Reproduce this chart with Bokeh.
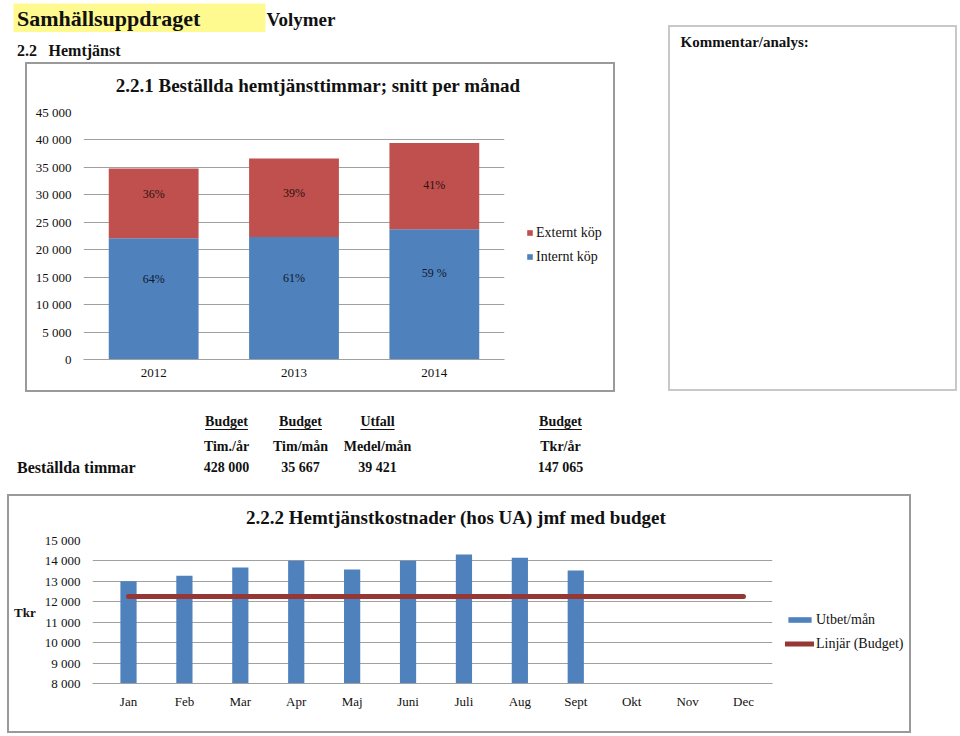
from bokeh.plotting import figure
from bokeh.models import (ColumnDataSource, FactorRange, Range1d, FixedTicker, Legend,
                          LegendItem, Spacer)
from bokeh.layouts import column, row
from bokeh.embed import file_html
from bokeh.resources import INLINE
from bokeh.core.properties import value

FONT = "Liberation Serif"
TXT = "#111111"
BLUE = "#4F81BD"
RED = "#C0504D"
DARKRED = "#953735"
GRID = "#A0A0A0"
BOX = "#9A9A9A"
BOX2 = "#C8C8C8"

# ---------------- data ----------------
years = ["2012", "2013", "2014"]
internt = [22070, 22310, 23710]
externt = [12715, 14300, 15711]
pct_internt = ["64%", "61%", "59 %"]
pct_externt = ["36%", "39%", "41%"]
y1_ticks = list(range(0, 45001, 5000))
series1 = ["Externt köp", "Internt köp"]

months = ["Jan", "Feb", "Mar", "Apr", "Maj", "Juni", "Juli", "Aug", "Sept", "Okt", "Nov", "Dec"]
utbet = [13000, 13280, 13680, 14010, 13580, 14010, 14320, 14155, 13530]
budget_tkr_ar = 147065
y2_ticks = list(range(8000, 15001, 1000))
series2 = ["Utbet/mån", "Linjär (Budget)"]

table_headers = ["Budget", "Budget", "Utfall", "Budget"]
table_units = ["Tim./år", "Tim/mån", "Medel/mån", "Tkr/år"]
table_values = ["428 000", "35 667", "39 421", "147 065"]
table_row_label = "Beställda timmar"

# Times/Liberation Serif Bold advance widths (per 1000 em) for underline lengths
TB = {"B": 667, "u": 556, "d": 556, "g": 500, "e": 444, "t": 333, "U": 722, "f": 333,
      "a": 500, "l": 278}


def fmt(v):
    return f"{v:,}".replace(",", " ")


def blank(fig):
    fig.axis.visible = False
    fig.grid.visible = False
    fig.outline_line_color = None


def canvas(w, h):
    f = figure(width=w, height=h, x_range=Range1d(0, w), y_range=Range1d(h, 0),
               output_backend="svg", toolbar_location=None, min_border=0)
    blank(f)
    return f


def boxed(child, w, h, color):
    def side(ww, hh):
        return Spacer(width=ww, height=hh, styles={"background-color": color})
    return row(side(2, h + 4), column(side(w, 2), child, side(w, 2)), side(2, h + 4))


def title_fig(w, h, x, y, text):
    f = canvas(w, h)
    f.text(x=[x], y=[y], text=[text], text_font=value(FONT), text_font_size="19px",
           text_font_style="bold", text_align="center", text_baseline="middle", text_color=TXT)
    return f


# ---------------- header ----------------
ph = canvas(650, 62)
ph.quad(left=[13], right=[265], top=[3], bottom=[31.5], fill_color="#FFFA8F", line_color=None)
ph.text(x=[16.5], y=[18], text=["Samhällsuppdraget"], text_font=value(FONT), text_font_size="22px",
        text_font_style="bold", text_baseline="middle", text_color=TXT)
ph.text(x=[266], y=[19], text=["Volymer"], text_font=value(FONT), text_font_size="19px",
        text_font_style="bold", text_baseline="middle", text_color=TXT)
ph.text(x=[16.5, 48], y=[50, 50], text=["2.2", "Hemtjänst"], text_font=value(FONT),
        text_font_size="16px", text_font_style="bold", text_baseline="middle", text_color=TXT)

# ---------------- chart 2.2.1 ----------------
src1 = ColumnDataSource(dict(
    years=years, internt=internt, externt=externt,
    lab_int_y=[v * 2 / 3 for v in internt],
    lab_ext_y=[v + 8000 for v in internt],
    pct_int=pct_internt, pct_ext=pct_externt))

t1 = title_fig(586, 40, 293, 20.5, "2.2.1  Beställda hemtjänsttimmar; snitt per månad")

p1 = figure(width=485, height=286, x_range=FactorRange(factors=years, range_padding=0),
            y_range=Range1d(0, 45000), output_backend="svg", toolbar_location=None,
            min_border_left=56, min_border_right=8, min_border_top=8, min_border_bottom=31)
p1.vbar_stack(["internt", "externt"], x="years", width=0.64, source=src1,
              fill_color=[BLUE, RED], line_color=None)
p1.text(x="years", y="lab_int_y", text="pct_int", source=src1, text_font=value(FONT),
        text_font_size="12px", text_align="center", text_baseline="middle", text_color="#10182A")
p1.text(x="years", y="lab_ext_y", text="pct_ext", source=src1, text_font=value(FONT),
        text_font_size="12px", text_align="center", text_baseline="middle", text_color="#2A1010")

p1.outline_line_color = None
p1.xgrid.grid_line_color = None
p1.ygrid.grid_line_color = GRID
p1.yaxis.ticker = FixedTicker(ticks=y1_ticks)
p1.yaxis.major_label_overrides = {t: fmt(t) for t in y1_ticks}
p1.yaxis.axis_line_color = None
p1.yaxis.major_tick_line_color = None
p1.yaxis.minor_tick_line_color = None
p1.yaxis.major_tick_out = 0
p1.yaxis.major_label_standoff = 12
p1.xaxis.axis_line_color = GRID
p1.xaxis.major_tick_line_color = None
p1.xaxis.major_tick_out = 0
p1.xaxis.major_label_standoff = 9
for ax in (p1.xaxis, p1.yaxis):
    ax.major_label_text_font = FONT
    ax.major_label_text_font_size = "13px"
    ax.major_label_text_color = TXT

# legend panel (legend-only glyphs, placed outside the panel's visible range)
l1 = figure(width=101, height=286, x_range=Range1d(0, 1), y_range=Range1d(0, 1),
            output_backend="svg", toolbar_location=None, min_border=0)
blank(l1)
g_ext = l1.vbar(x=[5], top=[6], bottom=[5], width=0.5, fill_color=RED, line_color=None)
g_int = l1.vbar(x=[5], top=[6], bottom=[5], width=0.5, fill_color=BLUE, line_color=None)
leg1 = Legend(items=[LegendItem(label=series1[0], renderers=[g_ext]),
                     LegendItem(label=series1[1], renderers=[g_int])],
              location=(14, 94), glyph_width=7, glyph_height=7, label_standoff=3,
              label_height=17, spacing=7, padding=0, margin=0,
              label_text_font=FONT, label_text_font_size="14px", label_text_color=TXT,
              border_line_color=None, background_fill_alpha=0)
l1.add_layout(leg1, "center")

box1 = boxed(column(t1, row(p1, l1)), 586, 326, BOX)

# ---------------- Kommentar box ----------------
pk = canvas(285, 362)
pk.text(x=[10], y=[14], text=["Kommentar/analys:"], text_font=value(FONT), text_font_size="15px",
        text_font_style="bold", text_baseline="middle", text_color=TXT)
boxk = boxed(pk, 285, 362, BOX2)

# ---------------- table ----------------
pt = canvas(960, 102)
col_x = [226, 300, 377, 560]
hsrc = ColumnDataSource(dict(x=col_x, h=table_headers, u=table_units, v=table_values))
for col, yy in (("h", 29), ("u", 54), ("v", 75)):
    pt.text(x="x", y=yy, text=col, source=hsrc, text_font=value(FONT), text_font_size="14px",
            text_font_style="bold", text_align="center", text_baseline="middle", text_color=TXT)
widths = [sum(TB.get(c, 500) for c in h) / 1000 * 14 for h in table_headers]
pt.segment(x0=[x - w / 2 for x, w in zip(col_x, widths)], x1=[x + w / 2 for x, w in zip(col_x, widths)],
           y0=37, y1=37, line_color=TXT, line_width=1)
pt.text(x=[16.5], y=[75], text=[table_row_label], text_font=value(FONT), text_font_size="16px",
        text_font_style="bold", text_baseline="middle", text_color=TXT)

# ---------------- chart 2.2.2 ----------------
idx = list(range(len(months)))
src2 = ColumnDataSource(dict(x=idx[:len(utbet)], top=utbet))
budget_month = [budget_tkr_ar / 12] * len(months)

t2 = title_fig(900, 36, 449, 21, "2.2.2 Hemtjänstkostnader (hos UA) jmf  med budget")

p2 = figure(width=771, height=199, x_range=Range1d(-0.644, len(months) - 1 + 0.519),
            y_range=Range1d(y2_ticks[0], y2_ticks[-1]), output_backend="svg", toolbar_location=None,
            min_border_left=83, min_border_right=8, min_border_top=8, min_border_bottom=48)
p2.vbar(x="x", top="top", bottom=0, width=0.29, source=src2, fill_color=BLUE, line_color=None)
p2.line(x=idx, y=budget_month, line_color=DARKRED, line_width=5, line_cap="round")

p2.outline_line_color = None
p2.xgrid.grid_line_color = None
p2.ygrid.grid_line_color = GRID
p2.yaxis.ticker = FixedTicker(ticks=y2_ticks)
p2.yaxis.major_label_overrides = {t: fmt(t) for t in y2_ticks}
p2.yaxis.axis_line_color = None
p2.yaxis.major_tick_line_color = None
p2.yaxis.minor_tick_line_color = None
p2.yaxis.major_tick_out = 0
p2.yaxis.major_label_standoff = 12
p2.yaxis.axis_label = "Tkr"
p2.yaxis.axis_label_orientation = "horizontal"
p2.yaxis.axis_label_standoff = 6
p2.yaxis.axis_label_text_font = FONT
p2.yaxis.axis_label_text_font_size = "13px"
p2.yaxis.axis_label_text_font_style = "bold"
p2.yaxis.axis_label_text_color = TXT
p2.xaxis.ticker = FixedTicker(ticks=idx)
p2.xaxis.major_label_overrides = {i: m for i, m in zip(idx, months)}
p2.xaxis.axis_line_color = GRID
p2.xaxis.major_tick_line_color = None
p2.xaxis.minor_tick_line_color = None
p2.xaxis.major_tick_out = 0
p2.xaxis.major_label_standoff = 10
for ax in (p2.xaxis, p2.yaxis):
    ax.major_label_text_font = FONT
    ax.major_label_text_font_size = "13px"
    ax.major_label_text_color = TXT

l2 = figure(width=129, height=199, x_range=Range1d(0, 1), y_range=Range1d(0, 1),
            output_backend="svg", toolbar_location=None, min_border=0)
blank(l2)
g_bar = l2.vbar(x=[5], top=[6], bottom=[5], width=0.5, fill_color=BLUE, line_color=None)
g_line = l2.line(x=[5, 6], y=[5, 5], line_color=DARKRED, line_width=5, line_cap="round")
leg2 = Legend(items=[LegendItem(label=series2[0], renderers=[g_bar]),
                     LegendItem(label=series2[1], renderers=[g_line])],
              location=(5, 31), glyph_width=29, glyph_height=7, label_standoff=2,
              label_height=17, spacing=7, padding=0, margin=0,
              label_text_font=FONT, label_text_font_size="14px", label_text_color=TXT,
              border_line_color=None, background_fill_alpha=0)
l2.add_layout(leg2, "center")

box2 = boxed(column(t2, row(p2, l2)), 900, 235, BOX)

# ---------------- layout ----------------
left_col = column(ph, row(Spacer(width=25, height=330), box1))
right_col = column(Spacer(width=289, height=25), boxk)
top = row(left_col, Spacer(width=18, height=10), right_col)
page = column(top, pt, row(Spacer(width=7, height=239), box2))

open("out.html", "w").write(file_html(page, INLINE))
